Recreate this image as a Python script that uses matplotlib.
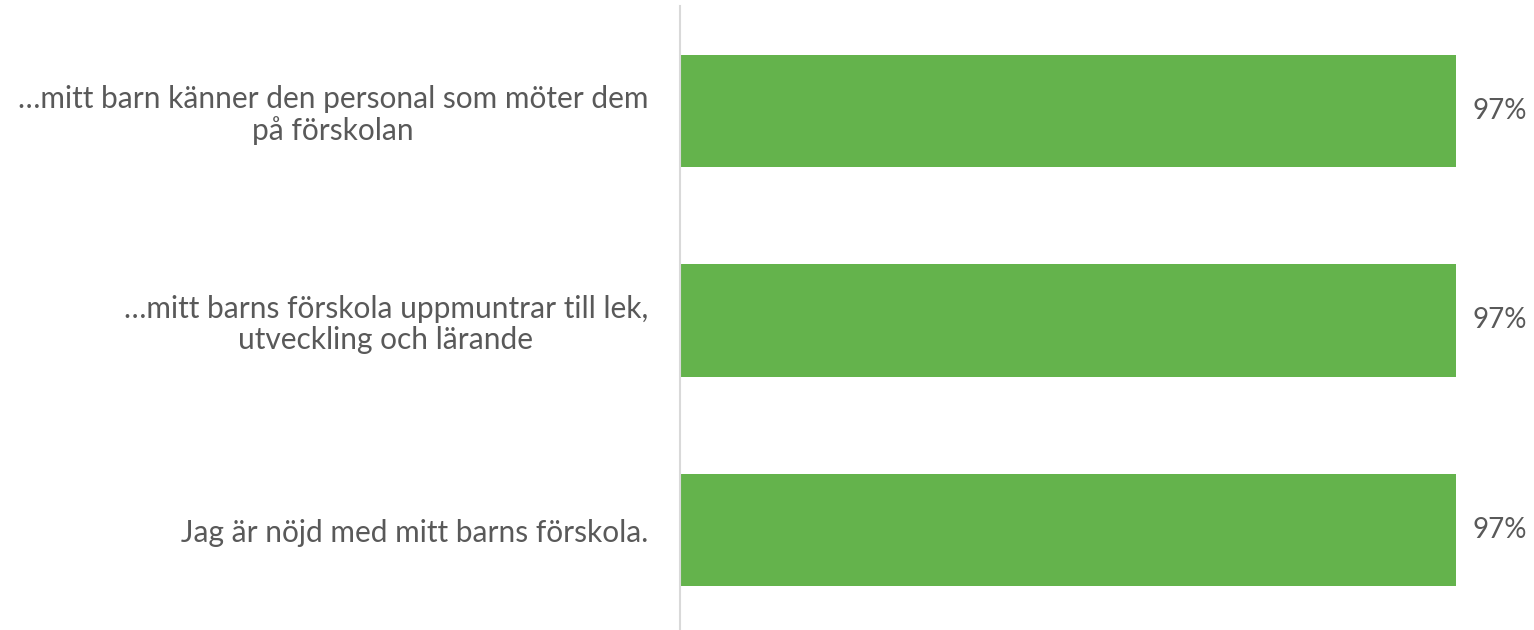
import matplotlib.pyplot as plt

plt.rcParams['font.family'] = ['Lato', 'DejaVu Sans']

# data, top to bottom
categories = [
    '…mitt barn känner den personal som möter dem\npå förskolan',
    '…mitt barns förskola uppmuntrar till lek,\nutveckling och lärande',
    'Jag är nöjd med mitt barns förskola.',
]
values = [0.97, 0.97, 0.97]
value_labels = ['97%', '97%', '97%']

text_color = '#595959'
bar_color = '#64B34C'

fig = plt.figure(figsize=(15.34, 6.3), dpi=100)
ax = fig.add_axes([680 / 1534, -5 / 630, 800 / 1534, 629 / 630])

pos = list(range(len(categories)))
bars = ax.barh(pos, values, height=0.535, color=bar_color)
ax.set_ylim(len(categories) - 0.5, -0.5)
ax.set_xlim(0, 1)

for b, lab in zip(bars, value_labels):
    ax.annotate(lab, (b.get_width(), b.get_y() + b.get_height() / 2),
                xytext=(17, 0), textcoords='offset pixels',
                ha='left', va='center', fontsize=20, color=text_color)

ax.set_yticks(pos)
ax.set_yticklabels(categories, fontsize=21.5, color=text_color,
                   multialignment='center', linespacing=1.15)
ax.tick_params(axis='y', length=0, pad=23)
ax.set_xticks([])

for s in ['top', 'right', 'bottom']:
    ax.spines[s].set_visible(False)
ax.spines['left'].set_color('#D9D9D9')
ax.spines['left'].set_linewidth(1.5)

fig.savefig('out.png', dpi=100)
